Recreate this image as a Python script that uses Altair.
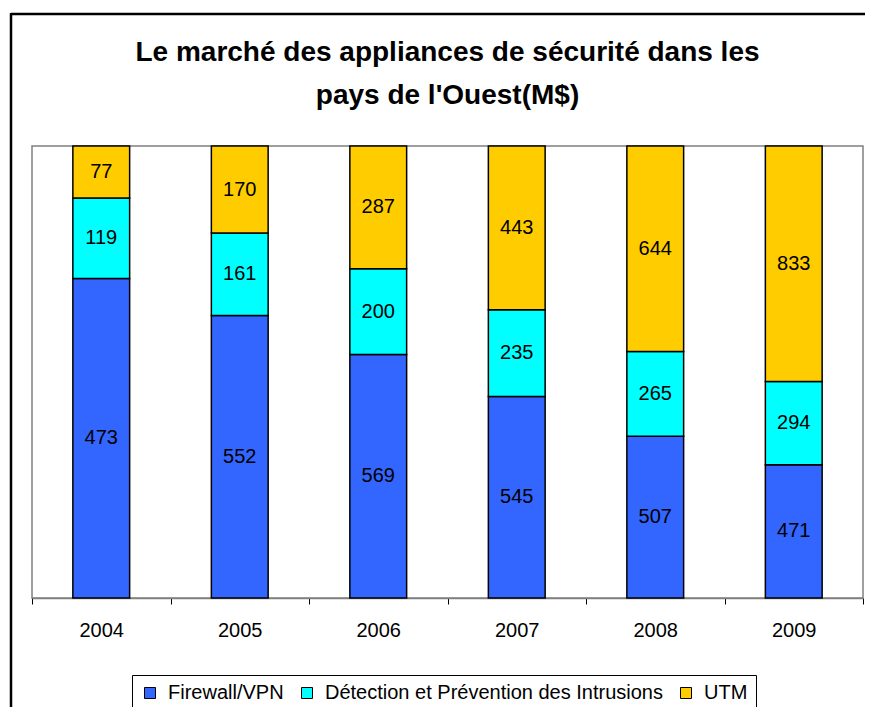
import altair as alt
import pandas as pd

years = ["2004", "2005", "2006", "2007", "2008", "2009"]
series = ["Firewall/VPN", "Détection et Prévention des Intrusions", "UTM"]
firewall = [473, 552, 569, 545, 507, 471]
ids = [119, 161, 200, 235, 265, 294]
utm = [77, 170, 287, 443, 644, 833]
colors = ["#3366FF", "#00FFFF", "#FFCC00"]

rows = []
for k, (name, vals) in enumerate(zip(series, [firewall, ids, utm])):
    for y, v in zip(years, vals):
        rows.append({"year": y, "series": name, "value": v, "order": k})
df = pd.DataFrame(rows)

W, H = 831, 452
FONT = "Liberation Sans"

base = alt.Chart(df).transform_stack(
    stack="value", groupby=["year"], as_=["v0", "v1"], offset="normalize",
    sort=[alt.SortField("order", order="ascending")]
).transform_calculate(mid="(datum.v0 + datum.v1) / 2")

xenc = alt.X(
    "year:N", sort=years,
    scale=alt.Scale(paddingInner=0, paddingOuter=0),
    axis=alt.Axis(title=None, tickBand="extent", labelAngle=0, labelFontSize=20,
                  labelFont=FONT, labelColor="black", labelPadding=16, tickSize=6,
                  tickColor="black", tickWidth=1, domainColor="#808080", domainWidth=1.5,
                  grid=False),
)
yscale = alt.Scale(domain=[0, 1], nice=False)

bars = base.mark_bar(width=alt.RelativeBandSize(0.41), stroke="black", strokeWidth=1.5).encode(
    x=xenc,
    y=alt.Y("v0:Q", scale=yscale, axis=None),
    y2="v1:Q",
    color=alt.Color(
        "series:N",
        scale=alt.Scale(domain=series, range=colors),
        legend=alt.Legend(
            title=None, orient="none", legendX=100, legendY=529, direction="horizontal",
            symbolType="square", symbolSize=121, symbolStrokeColor="black",
            symbolStrokeWidth=1, symbolOpacity=1, labelFontSize=20, labelFont=FONT,
            labelColor="black", labelLimit=0, strokeColor="black", padding=8,
            columnPadding=13, labelOffset=8,
        ),
    ),
)

labels = base.mark_text(fontSize=20, font=FONT, color="black", baseline="middle").encode(
    x=alt.X("year:N", sort=years),
    y=alt.Y("mid:Q", scale=yscale, axis=None),
    text="value:Q",
)

frame_df = pd.DataFrame({"k": [0]})
border_top = alt.Chart(frame_df).mark_rule(color="black", strokeWidth=2.5).encode(
    x=alt.value(-21), x2=alt.value(850), y=alt.value(-132)
)
border_left = alt.Chart(frame_df).mark_rule(color="black", strokeWidth=2.5).encode(
    x=alt.value(-21), y=alt.value(-133), y2=alt.value(580)
)

chart = alt.layer(bars, labels, border_top, border_left).properties(
    width=W, height=H,
    title=alt.Title(
        ["Le marché des appliances de sécurité dans les", "pays de l'Ouest(M$)"],
        fontSize=28, font=FONT, fontWeight="bold", anchor="middle", frame="group",
        offset=-98, lineHeight=43, color="black",
    ),
    autosize=alt.AutoSizeParams(type="none"),
    padding={"left": 24, "top": 138, "right": 2, "bottom": 109},
).configure_view(stroke="#808080", strokeWidth=1.5)

chart.save("out.html", embed_options={"renderer": "svg", "actions": False})
